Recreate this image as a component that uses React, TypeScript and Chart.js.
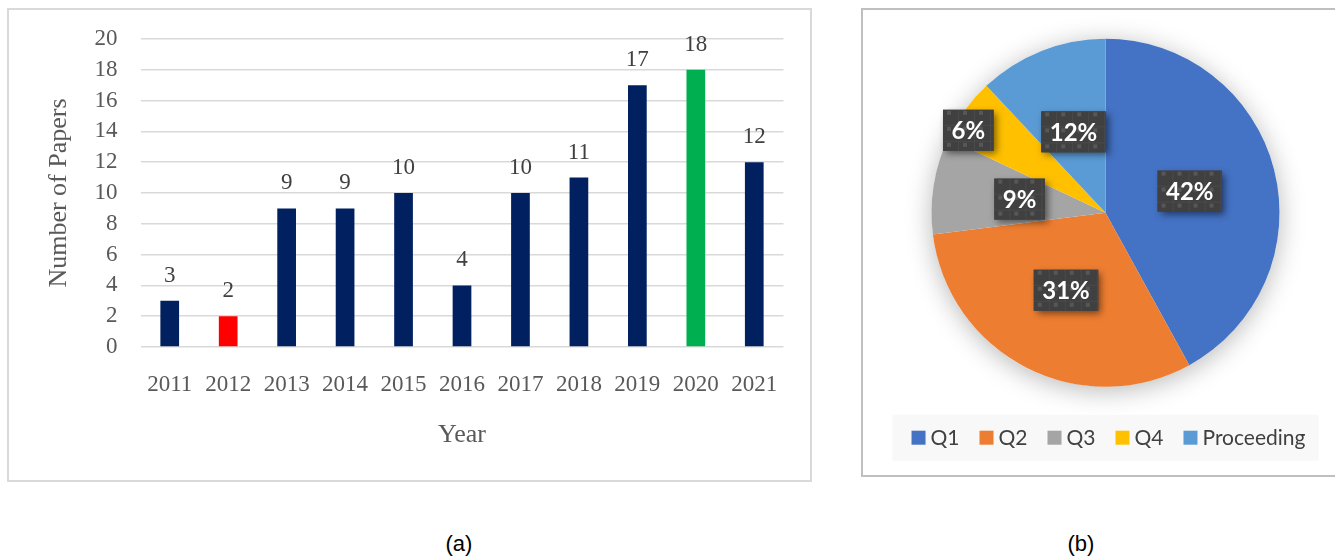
import React, { useEffect, useRef } from "react";
import { Chart, registerables } from "chart.js";

Chart.register(...registerables);

// ---------- data ----------
const years = ["2011", "2012", "2013", "2014", "2015", "2016", "2017", "2018", "2019", "2020", "2021"];
const paperCounts = [3, 2, 9, 9, 10, 4, 10, 11, 17, 18, 12];
const barColors = ["#002060", "#FF0000", "#002060", "#002060", "#002060", "#002060", "#002060", "#002060", "#002060", "#00B050", "#002060"];
const yMin = 0;
const yMax = 20;
const yStep = 2;

const pieLabels = ["Q1", "Q2", "Q3", "Q4", "Proceeding"];
const pieShares = [42, 31, 9, 6, 12];
const pieColors = ["#4472C4", "#ED7D31", "#A5A5A5", "#FFC000", "#5B9BD5"];

// label placement (fraction of radius, angle tweak in degrees) — style only
const pieLabelRadius = [0.5, 0.5, 0.5, 0.92, 0.5];
const pieLabelAngleTweak = [0, 0, 0, -5, 0];

const SERIF = "'Liberation Serif', 'Times New Roman', serif";
const SANS = "Lato, 'Noto Sans', sans-serif";

// ---------- plugins ----------
const barValueLabels = {
  id: "barValueLabels",
  afterDatasetsDraw(chart: any) {
    const ctx = chart.ctx;
    const meta = chart.getDatasetMeta(0);
    const data = chart.data.datasets[0].data;
    ctx.save();
    ctx.font = `23px ${SERIF}`;
    ctx.fillStyle = "#404040";
    ctx.textAlign = "center";
    ctx.textBaseline = "middle";
    meta.data.forEach((bar: any, i: number) => {
      ctx.fillText(String(data[i]), bar.x, bar.y - 25);
    });
    ctx.restore();
  },
};

const pieShadow = {
  id: "pieShadow",
  beforeDatasetsDraw(chart: any) {
    const meta = chart.getDatasetMeta(0);
    if (!meta.data.length) return;
    const { x, y, outerRadius } = meta.data[0].getProps(["x", "y", "outerRadius"], true);
    const ctx = chart.ctx;
    ctx.save();
    ctx.shadowColor = "rgba(0,0,0,0.28)";
    ctx.shadowBlur = 26;
    ctx.shadowOffsetY = 4;
    ctx.fillStyle = "#ffffff";
    ctx.beginPath();
    ctx.arc(x, y, outerRadius, 0, Math.PI * 2);
    ctx.fill();
    ctx.restore();
  },
};

function makeTexture(ctx: CanvasRenderingContext2D) {
  const c = document.createElement("canvas");
  c.width = 16;
  c.height = 16;
  const g = c.getContext("2d")!;
  g.fillStyle = "#404040";
  g.fillRect(0, 0, 16, 16);
  g.fillStyle = "#4a4a4a";
  g.fillRect(15, 0, 1, 16);
  g.fillRect(0, 15, 16, 1);
  g.fillStyle = "#575757";
  g.fillRect(4, 1, 4, 4);
  return ctx.createPattern(c, "repeat");
}

const pieValueLabels = {
  id: "pieValueLabels",
  afterDatasetsDraw(chart: any) {
    const ctx: CanvasRenderingContext2D = chart.ctx;
    const meta = chart.getDatasetMeta(0);
    const data = chart.data.datasets[0].data;
    const pattern = makeTexture(ctx);
    ctx.save();
    ctx.font = `bold 24px ${SANS}`;
    meta.data.forEach((arc: any, i: number) => {
      const { x, y, startAngle, endAngle, outerRadius } = arc.getProps(
        ["x", "y", "startAngle", "endAngle", "outerRadius"],
        true
      );
      const mid = (startAngle + endAngle) / 2 + (pieLabelAngleTweak[i] * Math.PI) / 180;
      const r = outerRadius * pieLabelRadius[i];
      const cx = x + Math.cos(mid) * r;
      const cy = y + Math.sin(mid) * r;
      const text = `${data[i]}%`;
      const tw = ctx.measureText(text).width;
      const bw = tw + 17;
      const bh = 41;
      ctx.save();
      ctx.shadowColor = "rgba(0,0,0,0.5)";
      ctx.shadowBlur = 7;
      ctx.shadowOffsetX = 3;
      ctx.shadowOffsetY = 3;
      ctx.fillStyle = "#404040";
      ctx.fillRect(cx - bw / 2, cy - bh / 2, bw, bh);
      ctx.restore();
      ctx.save();
      ctx.translate(cx - bw / 2, cy - bh / 2);
      ctx.fillStyle = pattern || "#404040";
      ctx.fillRect(0, 0, bw, bh);
      ctx.restore();
      ctx.fillStyle = "#ffffff";
      ctx.textAlign = "center";
      ctx.textBaseline = "middle";
      ctx.fillText(text, cx, cy + 1);
    });
    ctx.restore();
  },
};

const pieLegend = {
  id: "pieLegend",
  afterDraw(chart: any) {
    const ctx: CanvasRenderingContext2D = chart.ctx;
    const labels: string[] = chart.data.labels;
    const colors: string[] = chart.data.datasets[0].backgroundColor;
    const area = chart.chartArea;
    const cxCenter = (area.left + area.right) / 2;
    const bgW = 426;
    const bgH = 46;
    const bgTop = area.bottom + 28;
    ctx.save();
    ctx.fillStyle = "#f8f8f8";
    ctx.fillRect(cxCenter - bgW / 2, bgTop, bgW, bgH);
    ctx.font = `21px ${SANS}`;
    const box = 14;
    const gap = 5;
    const itemGap = 20;
    const widths = labels.map((l) => box + gap + ctx.measureText(l).width);
    const total = widths.reduce((a, b) => a + b, 0) + itemGap * (labels.length - 1);
    let x = cxCenter - total / 2 + 3;
    const cy = bgTop + bgH / 2;
    labels.forEach((l, i) => {
      ctx.fillStyle = colors[i];
      ctx.fillRect(x, cy - box / 2, box, box);
      ctx.fillStyle = "#404040";
      ctx.textAlign = "left";
      ctx.textBaseline = "middle";
      ctx.fillText(l, x + box + gap, cy + 1);
      x += widths[i] + itemGap;
    });
    ctx.restore();
  },
};

// ---------- components ----------
function BarPanel() {
  const ref = useRef<HTMLCanvasElement>(null);
  useEffect(() => {
    if (!ref.current) return;
    const chart = new Chart(ref.current, {
      type: "bar",
      data: {
        labels: years,
        datasets: [
          {
            data: paperCounts,
            backgroundColor: barColors,
            borderWidth: 0,
            barPercentage: 0.32,
            categoryPercentage: 1,
          },
        ],
      },
      options: {
        animation: false,
        responsive: false,
        events: [],
        layout: { padding: { top: 29, right: 26.5, left: 0, bottom: 0 } },
        plugins: { legend: { display: false }, tooltip: { enabled: false } },
        scales: {
          x: {
            grid: { display: false, drawTicks: false },
            border: { display: false },
            ticks: { color: "#595959", font: { family: SERIF, size: 23 }, padding: 24, maxRotation: 0, autoSkip: false },
            title: { display: true, text: "Year", color: "#595959", font: { family: SERIF, size: 26 }, padding: { top: 0, bottom: 29.4 } },
            afterFit: (s: any) => {
              s.height = 133;
            },
          },
          y: {
            min: yMin,
            max: yMax,
            grid: { color: "#d9d9d9", lineWidth: 1.5, drawTicks: false },
            border: { display: false },
            ticks: { stepSize: yStep, autoSkip: false, color: "#595959", font: { family: SERIF, size: 23 }, padding: 23 },
            title: { display: true, text: "Number of Papers", color: "#595959", font: { family: SERIF, size: 26 }, padding: { top: 34.4, bottom: 0 } },
            afterFit: (s: any) => {
              s.width = 131.5;
              s.paddingTop = 0;
              s.paddingBottom = 0;
            },
          },
        },
      },
      plugins: [barValueLabels],
    } as any);
    return () => chart.destroy();
  }, []);
  return <canvas ref={ref} width={801} height={470} style={{ display: "block", width: 801, height: 470 }} />;
}

function PiePanel() {
  const ref = useRef<HTMLCanvasElement>(null);
  useEffect(() => {
    if (!ref.current) return;
    const chart = new Chart(ref.current, {
      type: "pie",
      data: {
        labels: pieLabels,
        datasets: [{ data: pieShares, backgroundColor: pieColors, borderWidth: 0 }],
      },
      options: {
        animation: false,
        responsive: false,
        events: [],
        layout: { padding: { left: 68.5, right: 55.5, top: 28.7, bottom: 88.3 } },
        plugins: { legend: { display: false }, tooltip: { enabled: false } },
      },
      plugins: [pieShadow, pieValueLabels, pieLegend],
    } as any);
    return () => chart.destroy();
  }, []);
  return <canvas ref={ref} width={472} height={465} style={{ display: "block", width: 472, height: 465 }} />;
}

export default function App() {
  return (
    <div style={{ position: "absolute", left: 0, top: 0, width: 1335, height: 558, overflow: "hidden", background: "#fff" }}>
      <div
        style={{
          position: "absolute",
          left: 7,
          top: 8,
          width: 805,
          height: 474,
          border: "2px solid #d9d9d9",
          boxSizing: "border-box",
          background: "#fff",
        }}
      >
        <BarPanel />
      </div>
      <div
        style={{
          position: "absolute",
          left: 861,
          top: 8,
          width: 490,
          height: 469,
          border: "2px solid #bfbfbf",
          boxSizing: "border-box",
          background: "#fff",
        }}
      >
        <PiePanel />
      </div>
      <div style={{ position: "absolute", left: 409, width: 100, top: 531, textAlign: "center", font: "22px 'Liberation Sans', Arial, sans-serif", color: "#000" }}>
        (a)
      </div>
      <div style={{ position: "absolute", left: 1031, width: 100, top: 531, textAlign: "center", font: "22px 'Liberation Sans', Arial, sans-serif", color: "#000" }}>
        (b)
      </div>
    </div>
  );
}
